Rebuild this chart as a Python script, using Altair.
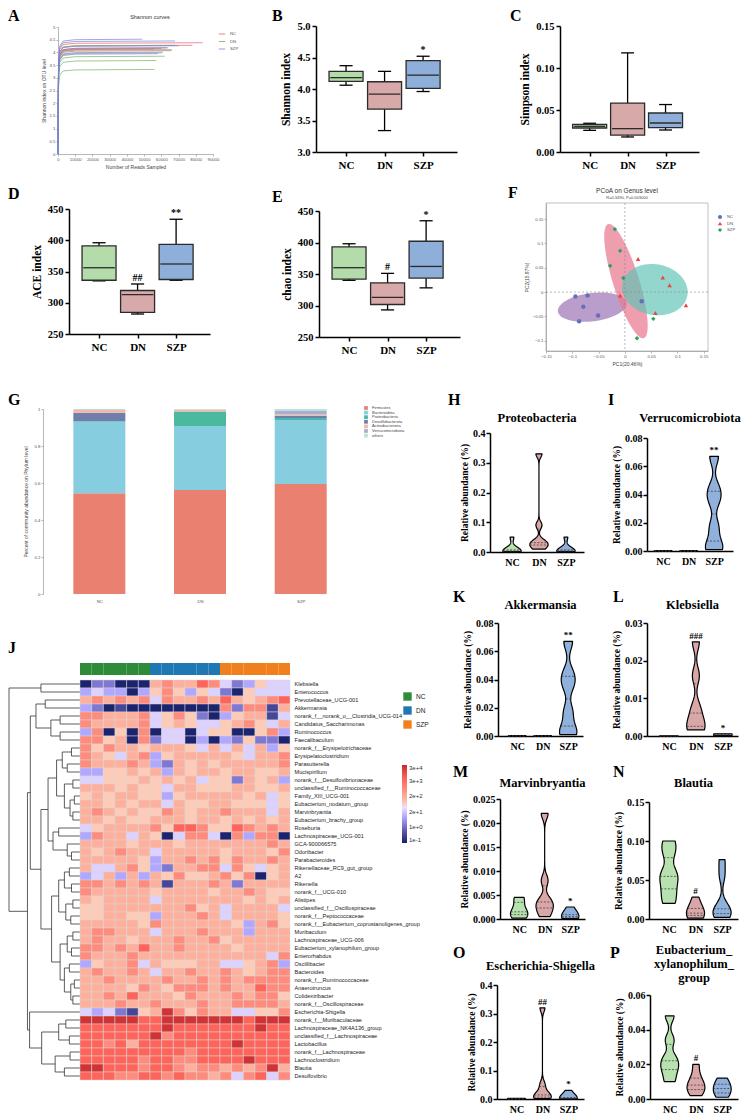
import altair as alt
import numpy as np
import pandas as pd

SERIF = "Liberation Serif"
SANS = "Liberation Sans"
GROUPS = ["NC", "DN", "SZP"]
LBL = "datum.value == 1 ? 'NC' : datum.value == 2 ? 'DN' : 'SZP'"
CW, CH = 739, 1109      # whole drawing area (page margin 8 px)
M0 = 8                  # page margin: reference pixel -> drawing pixel

# ---------------- Panel A: Shannon rarefaction curves ----------------
A_colors = ["#e3606c", "#74b067", "#7b84d4"]
A_curves = {
    "NC1": ("NC", [(0, 0.0), (300, 3.45), (1000, 4.12), (3000, 4.31), (10000, 4.36), (84000, 4.38)]),
    "NC2": ("NC", [(0, 0.0), (300, 3.40), (1000, 4.02), (3000, 4.21), (10000, 4.26), (78000, 4.28)]),
    "NC3": ("NC", [(0, 0.0), (300, 3.30), (1000, 3.93), (3000, 4.11), (10000, 4.16), (63000, 4.18)]),
    "NC4": ("NC", [(0, 0.0), (300, 3.28), (1000, 3.90), (3000, 4.08), (10000, 4.13), (60000, 4.15)]),
    "NC5": ("NC", [(0, 0.0), (300, 3.25), (1000, 3.88), (3000, 4.06), (10000, 4.11), (56000, 4.13)]),
    "NC6": ("NC", [(0, 0.0), (300, 3.20), (1000, 3.82), (3000, 4.00), (10000, 4.05), (66000, 4.07)]),
    "DN1": ("DN", [(0, 0.0), (300, 3.38), (1000, 4.02), (3000, 4.21), (10000, 4.26), (68000, 4.28)]),
    "DN2": ("DN", [(0, 0.0), (300, 3.25), (1000, 3.86), (3000, 4.04), (10000, 4.09), (66000, 4.11)]),
    "DN3": ("DN", [(0, 0.0), (300, 3.12), (1000, 3.73), (3000, 3.91), (10000, 3.96), (60000, 3.98)]),
    "DN4": ("DN", [(0, 0.0), (300, 3.02), (1000, 3.60), (3000, 3.78), (10000, 3.83), (62000, 3.85)]),
    "DN5": ("DN", [(0, 0.0), (300, 2.90), (1000, 3.44), (3000, 3.61), (10000, 3.66), (57000, 3.68)]),
    "DN6": ("DN", [(0, 0.0), (300, 2.60), (1000, 3.10), (3000, 3.27), (10000, 3.31), (56000, 3.33)]),
    "SZP1": ("SZP", [(0, 0.0), (300, 3.58), (1000, 4.25), (3000, 4.45), (10000, 4.50), (49000, 4.52)]),
    "SZP2": ("SZP", [(0, 0.0), (300, 3.52), (1000, 4.18), (3000, 4.38), (10000, 4.43), (68000, 4.45)]),
    "SZP3": ("SZP", [(0, 0.0), (300, 3.36), (1000, 4.00), (3000, 4.19), (10000, 4.24), (70000, 4.26)]),
    "SZP4": ("SZP", [(0, 0.0), (300, 3.30), (1000, 3.92), (3000, 4.11), (10000, 4.16), (64000, 4.18)]),
    "SZP5": ("SZP", [(0, 0.0), (300, 3.15), (1000, 3.76), (3000, 3.94), (10000, 3.99), (61000, 4.01)]),
    "SZP6": ("SZP", [(0, 0.0), (300, 3.10), (1000, 3.70), (3000, 3.88), (10000, 3.93), (58000, 3.95)]),
}

# ---------------- Panels B-E: box plots (min, q1, median, q3, max) ----------------
BOX_FILL = {"NC": "#b4dcaa", "DN": "#d8a9a9", "SZP": "#8eafd9"}
B_stats = {"NC": (4.06, 4.12, 4.18, 4.28, 4.37), "DN": (3.34, 3.68, 3.92, 4.115, 4.28), "SZP": (3.96, 4.01, 4.22, 4.45, 4.52)}
B_ann = {"SZP": "*"}
C_stats = {"NC": (0.0258, 0.0286, 0.0306, 0.033, 0.0342), "DN": (0.0179, 0.0202, 0.0278, 0.0583, 0.118), "SZP": (0.0262, 0.029, 0.0345, 0.0464, 0.0565)}
C_ann = {}
D_stats = {"NC": (335, 336, 356, 391, 396), "DN": (282, 284.5, 313, 319.6, 330), "SZP": (336, 337.2, 362, 393.5, 433.6)}
D_ann = {"DN": "##", "SZP": "**"}
E_stats = {"NC": (340, 342, 360, 393, 398), "DN": (293, 301.6, 313, 336, 351), "SZP": (328, 343.5, 362, 402, 434.5)}
E_ann = {"DN": "#", "SZP": "*"}

# ---------------- Panel F: PCoA ----------------
F_NC = [(-0.094, -0.009), (-0.071, -0.007), (-0.079, -0.030), (-0.051, -0.048), (-0.087, -0.060), (0.032, -0.019)]
F_DN = [(0.025, 0.068), (0.072, 0.030), (0.085, 0.014), (0.116, -0.027), (0.058, -0.043), (-0.009, -0.007)]
F_SZP = [(-0.019, 0.129), (-0.009, 0.085), (-0.028, 0.054), (-0.003, 0.029), (0.054, -0.055), (0.023, -0.095)]
# ellipses: centre x, centre y, semi-major, semi-minor, angle (deg), fill, opacity
F_ellipses = [
    (-0.062, -0.031, 0.066, 0.029, 8, "#a47cba", 0.75),
    (0.002, 0.0225, 0.122, 0.025, 106, "#e87890", 0.72),
    (0.057, 0.005, 0.063, 0.052, -15, "#5fc3b5", 0.68),
]
F_point_colors = ["#6670b8", "#e8473f", "#27a562"]

# ---------------- Panel G: phylum composition ----------------
G_phyla = ["Firmicutes", "Bacteroidota", "Proteobacteria", "Desulfobacterota",
           "Actinobacteriota", "Verrucomicrobiota", "others"]
G_colors = ["#ea8170", "#87cde0", "#4bb9a0", "#6f7fab", "#f6b6a6", "#a8aecf", "#b6e2da"]
G_NC = [0.544, 0.387, 0.003, 0.046, 0.015, 0.000, 0.005]
G_DN = [0.562, 0.346, 0.077, 0.002, 0.010, 0.000, 0.003]
G_SZP = [0.595, 0.345, 0.012, 0.012, 0.006, 0.022, 0.008]

# ---------------- Panel J: heatmap (colour level 0..9 per sample) ----------------
J_group_colors = ["#2e8b3a", "#1f78b4", "#f07f1e"]
J_rows = [
    ("Klebsiella", "022000676687423544"),
    ("Enterococcus", "343303575354205444"),
    ("Prevotellaceae_UCG-001", "676767476676865678"),
    ("Akkermansia", "320100000000727716"),
    ("norank_f__norank_o__Clostridia_UCG-014", "776667457520356614"),
    ("Candidatus_Saccharimonas", "766667456544567546"),
    ("Ruminococcus", "370507044045500573"),
    ("Faecalibaculum", "775607244030325220"),
    ("norank_f__Erysipelotrichaceae", "757665666546464635"),
    ("Erysipelatoclostridium", "765467356666654667"),
    ("Parasutterella", "766676326565666667"),
    ("Mucispirillum", "335565636566566556"),
    ("norank_f__Desulfovibrionaceae", "445556565645526563"),
    ("unclassified_f__Ruminococcaceae", "666565546655566556"),
    ("Family_XIII_UCG-001", "565665535666665645"),
    ("Eubacterium_nodatum_group", "665656646556655545"),
    ("Marvinbryantia", "676565576566766646"),
    ("Eubacterium_brachy_group", "665655666566565656"),
    ("Roseburia", "456666758875587676"),
    ("Lachnospiraceae_UCG-001", "376646504774073770"),
    ("GCA-900066575", "666656665666666676"),
    ("Odoribacter", "656766466666566657"),
    ("Parabacteroides", "666665366767576676"),
    ("Rikenellaceae_RC9_gut_group", "644675326677475456"),
    ("A2", "346363657556757056"),
    ("Rikenella", "776767616667626666"),
    ("norank_f__UCG-010", "766666566665667655"),
    ("Alistipes", "656666466666665656"),
    ("unclassified_f__Oscillospiraceae", "556666666756466664"),
    ("norank_f__Peptococcaceae", "556655366676466665"),
    ("norank_f__Eubacterium_coprostanoligenes_group", "666665766666653675"),
    ("Muribaculum", "677666466676663666"),
    ("Lachnospiraceae_UCG-006", "676656667667566666"),
    ("Eubacterium_xylanophilum_group", "776768667666656666"),
    ("Enterorhabdus", "766676666666666647"),
    ("Oscillibacter", "356674655566445673"),
    ("Bacteroides", "676676466766765677"),
    ("norank_f__Ruminococcaceae", "667666676676767777"),
    ("Anaerotruncus", "666657657776766877"),
    ("Colidextribacter", "667686665766676775"),
    ("norank_f__Oscillospiraceae", "666766766676677776"),
    ("Escherichia-Shigella", "434215697576644557"),
    ("norank_f__Muribaculaceae", "999998899999998999"),
    ("Lachnospiraceae_NK4A136_group", "888888898888888988"),
    ("unclassified_f__Lachnospiraceae", "888888978888888888"),
    ("Lactobacillus", "887868888888898888"),
    ("norank_f__Lachnospiraceae", "888888888788888888"),
    ("Lachnoclostridium", "888887887788889888"),
    ("Blautia", "998887887677676796"),
    ("Desulfovibrio", "888778878776747847"),
]
HEAT_LEVELS = [-0.95, -0.45, 0.24, 0.84, 1.34, 1.75, 2.2, 2.84, 3.53, 4.35]
HEAT_LEGEND_VALUES = [4.5, 3.4, 2.3, 1.2, 0.1, -1.0]
HEAT_LEGEND_LABELS = ["3e+4", "3e+3", "2e+2", "2e+1", "1e+0", "1e-1"]
# dendrogram: (left, right, merge height); leaves are row indices
J_tree = (
    (0, 1, 0.55),
    (
        (
            ((2, 3, 0.49), (((4, 5, 0.28), (6, 7, 0.28), 0.41)), 0.62),
            (
                (
                    (((8, 9, 0.12), (10, 11, 0.18), 0.25),
                     ((12, 13, 0.10), ((14, 15, 0.08), (16, 17, 0.10), 0.14), 0.22), 0.33),
                    ((18, 19, 0.30), (20, (21, 22, 0.12), 0.18), 0.38),
                    0.45,
                ),
                (
                    (((23, 24, 0.15), (25, 26, 0.12), 0.22), ((27, 28, 0.10), (29, 30, 0.13), 0.20), 0.30),
                    (((31, 32, 0.10), (33, 34, 0.12), 0.18),
                     ((35, 36, 0.15), ((37, 38, 0.08), (39, 40, 0.10), 0.13), 0.22), 0.28),
                    0.40,
                ),
                0.55,
            ),
            0.70,
        ),
        (41, (((42, 43, 0.20), (44, 45, 0.15), 0.30), ((46, 47, 0.14), (48, 49, 0.22), 0.35), 0.54), 0.71),
        0.74,
    ),
    1.0,
)

# ---------------- Violin panels H-P (six samples per group) ----------------
VIO_FILL = {"NC": "#b7e1ae", "DN": "#d9a7a7", "SZP": "#8fb1dc"}
H_vals = {"NC": [0.001, 0.002, 0.003, 0.004, 0.008, 0.05], "DN": [0.01, 0.02, 0.03, 0.035, 0.09, 0.33],
          "SZP": [0.001, 0.002, 0.003, 0.004, 0.008, 0.05]}
I_vals = {"NC": [0.0, 0.0, 0.0001, 0.0001, 0.0002, 0.0003], "DN": [0.0, 0.0, 0.0001, 0.0001, 0.0002, 0.0003],
          "SZP": [0.001, 0.004, 0.017, 0.036, 0.044, 0.067]}
K_vals = {"NC": [0.0, 0.0, 0.0001, 0.0001, 0.0002, 0.0003], "DN": [0.0, 0.0, 0.0001, 0.0001, 0.0002, 0.0003],
          "SZP": [0.001, 0.004, 0.017, 0.036, 0.044, 0.067]}
L_vals = {"NC": [0.0, 0.0, 0.00001, 0.00002, 0.00004, 0.00005], "DN": [0.0016, 0.002, 0.0045, 0.0075, 0.016, 0.025],
          "SZP": [0.0001, 0.0002, 0.0003, 0.0004, 0.0005, 0.0006]}
M_vals = {"NC": [0.0002, 0.0008, 0.0012, 0.0018, 0.004, 0.0045], "DN": [0.0005, 0.002, 0.003, 0.004, 0.008, 0.022],
          "SZP": [0.0001, 0.0002, 0.0004, 0.0006, 0.001, 0.0025]}
N_vals = {"NC": [0.02, 0.035, 0.05, 0.06, 0.085, 0.1], "DN": [0.001, 0.004, 0.006, 0.009, 0.015, 0.028],
          "SZP": [0.002, 0.006, 0.01, 0.016, 0.056, 0.076]}
O_vals = {"NC": [0.0, 0.0, 0.0005, 0.001, 0.0015, 0.002], "DN": [0.001, 0.004, 0.01, 0.02, 0.05, 0.32],
          "SZP": [0.0005, 0.001, 0.002, 0.003, 0.006, 0.03]}
P_vals = {"NC": [0.01, 0.016, 0.02, 0.024, 0.034, 0.048], "DN": [0.002, 0.005, 0.007, 0.009, 0.013, 0.02],
          "SZP": [0.001, 0.003, 0.005, 0.007, 0.009, 0.012]}

ONE = pd.DataFrame({"k": [0]})


# ---------------- helpers (positions given in reference pixels) ----------------
def P(v):
    return v - M0


def xrange_(plot):
    return [P(plot[0]), P(plot[0] + plot[2])]


def yrange_(plot):
    return [P(plot[1] + plot[3]), P(plot[1])]


def txt(text, x, y, size, font=SERIF, weight="bold", align="left", baseline="top",
        color="black", angle=0, lh=None):
    kw = dict(text=text, fontSize=size, font=font, fontWeight=weight, align=align,
              baseline=baseline, color=color)
    if angle:
        kw["angle"] = angle
    if lh:
        kw["lineHeight"] = lh
    return alt.Chart(ONE).mark_text(**kw).encode(x=alt.value(P(x)), y=alt.value(P(y)))


def letter(ch, pos):
    return txt(ch, max(pos[0], M0), max(pos[1], M0), 16)


def serif_axis(**kw):
    base = dict(grid=False, labelFont=SERIF, labelFontWeight="bold", labelColor="black",
                titleFont=SERIF, titleFontWeight="bold", titleColor="black",
                domainColor="black", tickColor="black", domainWidth=1.5, tickWidth=1.5,
                labelFlush=False, labelOverlap=False)
    base.update(kw)
    return alt.Axis(**base)


def small_axis(**kw):
    base = dict(grid=False, labelFont=SANS, labelFontSize=4.3, labelColor="#555",
                titleFont=SANS, titleFontSize=5, titleFontWeight="normal", titleColor="#444",
                domainColor="#888", tickColor="#888", domainWidth=0.6, tickWidth=0.6, tickSize=2,
                labelPadding=1, titlePadding=3, labelFlush=False, labelOverlap=False)
    base.update(kw)
    return alt.Axis(**base)


def bottom_off(plot):
    return P(plot[1] + plot[3]) - CH


def left_off(plot):
    return -P(plot[0])


# ---------------- box panels ----------------
def box_panel(ch, stats, ann, ytitle, ydom, yticks, yfmt, plot, lpos):
    df = pd.DataFrame({
        "grp": GROUPS, "idx": [1, 2, 3],
        "lo": [stats[g][0] for g in GROUPS], "q1": [stats[g][1] for g in GROUPS],
        "med": [stats[g][2] for g in GROUPS], "q3": [stats[g][3] for g in GROUPS],
        "hi": [stats[g][4] for g in GROUPS],
        "fill": [BOX_FILL[g] for g in GROUPS], "ann": [ann.get(g, "") for g in GROUPS]})
    xs = alt.Scale(domain=[0.35, 3.75], range=xrange_(plot), nice=False, zero=False)
    ys = alt.Scale(domain=ydom, range=yrange_(plot), nice=False, zero=False)
    xa = serif_axis(orient="bottom", offset=bottom_off(plot), values=[1, 2, 3], labelExpr=LBL, title=None,
                    labelFontSize=11, tickSize=4, labelPadding=3)
    ya = serif_axis(orient="left", offset=left_off(plot), values=yticks, format=yfmt, title=ytitle,
                    labelFontSize=10.5, titleFontSize=11.5, tickSize=4, labelPadding=2, titlePadding=5)
    base = alt.Chart(df).transform_calculate(
        cl="datum.idx - 0.17", cr="datum.idx + 0.17", ml="datum.idx - 0.41", mr="datum.idx + 0.41")
    X = lambda f: alt.X(f, scale=xs, axis=xa)
    Y = lambda f: alt.Y(f, scale=ys, axis=ya)
    whisk = base.mark_rule(color="black", strokeWidth=1.3).encode(x=X("idx:Q"), y=Y("lo:Q"), y2="hi:Q")
    cap_lo = base.mark_rule(color="black", strokeWidth=1.3).encode(x=X("cl:Q"), x2="cr:Q", y=Y("lo:Q"))
    cap_hi = base.mark_rule(color="black", strokeWidth=1.3).encode(x=X("cl:Q"), x2="cr:Q", y=Y("hi:Q"))
    box = base.mark_bar(size=34, stroke="#2b2b2b", strokeWidth=1.3).encode(
        x=X("idx:Q"), y=Y("q1:Q"), y2="q3:Q", color=alt.Color("fill:N", scale=None))
    med = base.mark_rule(color="#2b2b2b", strokeWidth=1.3).encode(x=X("ml:Q"), x2="mr:Q", y=Y("med:Q"))
    annt = base.mark_text(font=SERIF, fontWeight="bold", fontSize=10, baseline="bottom", dy=-1).encode(
        x=X("idx:Q"), y=Y("hi:Q"), text="ann:N")
    return alt.layer(whisk, cap_lo, cap_hi, box, med, annt, letter(ch, lpos))


# ---------------- violin panels ----------------
def violin_panel(ch, title, vals, ann, bw, ydom, yticks, yfmt, plot, lpos, title_y,
                 xdom=(0.25, 3.6), title_baseline="middle"):
    rows = []
    for i, g in enumerate(GROUPS):
        for v in vals[g]:
            rows.append({"grp": g, "idx": i + 1, "val": v, "fill": VIO_FILL[g], "ann": ann.get(g, "")})
    df = pd.DataFrame(rows)
    xs = alt.Scale(domain=list(xdom), range=xrange_(plot), nice=False, zero=False)
    ys = alt.Scale(domain=ydom, range=yrange_(plot), nice=False, zero=False)
    xa = serif_axis(orient="bottom", offset=bottom_off(plot), values=[1, 2, 3], labelExpr=LBL, title=None,
                    labelFontSize=10, ticks=False, labelPadding=5)
    ya = serif_axis(orient="left", offset=left_off(plot), values=yticks, format=yfmt,
                    title="Relative abundance (%)", labelFontSize=10, titleFontSize=9.5, tickSize=4,
                    labelPadding=1, titlePadding=3)
    layers = []
    for g in GROUPS:
        dens = (alt.Chart(df)
                .transform_filter(alt.datum.grp == g)
                .transform_joinaggregate(q1="q1(val)", md="median(val)", q3="q3(val)")
                .transform_density("val", as_=["yv", "dens"], bandwidth=bw,
                                   groupby=["idx", "fill", "q1", "md", "q3"], steps=120)
                .transform_joinaggregate(dmax="max(dens)")
                .transform_calculate(lft="datum.idx - 0.34 * datum.dens / datum.dmax",
                                     rgt="datum.idx + 0.34 * datum.dens / datum.dmax"))
        area = dens.mark_area(orient="horizontal", stroke="black", strokeWidth=1.2, strokeJoin="round").encode(
            y=alt.Y("yv:Q", scale=ys, axis=ya), x=alt.X("lft:Q", scale=xs, axis=xa), x2="rgt:Q",
            color=alt.Color("fill:N", scale=None))
        qlines = (dens.transform_fold(["q1", "md", "q3"], as_=["qk", "qv"])
                  .transform_calculate(dd="abs(datum.yv - datum.qv)")
                  .transform_window(rn="row_number()", sort=[alt.SortField("dd", order="ascending")],
                                    groupby=["qk"])
                  .transform_filter("datum.rn == 1")
                  .mark_rule(strokeDash=[2, 1.5], strokeWidth=0.7, color="#333")
                  .encode(x=alt.X("lft:Q", scale=xs, axis=xa), x2="rgt:Q", y=alt.Y("yv:Q", scale=ys, axis=ya)))
        layers += [area, qlines]
    annt = (alt.Chart(df).transform_aggregate(top="max(val)", groupby=["grp", "idx", "ann"])
            .mark_text(font=SERIF, fontWeight="bold", fontSize=9, baseline="bottom", dy=-1)
            .encode(x=alt.X("idx:Q", scale=xs, axis=xa), y=alt.Y("top:Q", scale=ys, axis=ya), text="ann:N"))
    ttl = txt(title, plot[0] + plot[2] / 2, title_y, 12.5, align="center", baseline=title_baseline, lh=14)
    layers += [annt, ttl, letter(ch, lpos)]
    return alt.layer(*layers)


# ---------------- Panel A ----------------
rowsA = []
for name, (grp, pts) in A_curves.items():
    for r, s in pts:
        rowsA.append({"sample": name, "grp": grp, "reads": r, "shannon": s})
dfA = pd.DataFrame(rowsA)
pA = (58, 27, 155, 127)
linesA = alt.Chart(dfA).mark_line(strokeWidth=0.7).encode(
    x=alt.X("reads:Q", scale=alt.Scale(domain=[0, 90000], range=xrange_(pA), nice=False),
            axis=small_axis(orient="bottom", offset=bottom_off(pA), values=list(range(0, 90001, 10000)),
                            format="d", title="Number of Reads Sampled")),
    y=alt.Y("shannon:Q", scale=alt.Scale(domain=[0, 5], range=yrange_(pA), nice=False),
            axis=small_axis(orient="left", offset=left_off(pA), values=[i * 0.5 for i in range(11)],
                            format="~g", title="Shannon index on OTU level")),
    color=alt.Color("grp:N", scale=alt.Scale(domain=GROUPS, range=A_colors),
                    legend=alt.Legend(orient="none", legendX=P(218), legendY=P(30), title=None, symbolType="stroke",
                                      symbolSize=40, symbolStrokeWidth=0.8, labelFont=SANS, labelFontSize=4.3,
                                      labelColor="#555", rowPadding=0.5)),
    detail="sample:N")
panelA = alt.layer(linesA,
                   txt("Shannon curves", 150, 17, 5.5, font=SANS, weight="normal", align="center",
                       baseline="middle", color="#333"),
                   letter("A", (8, 8)))

# ---------------- Panels B-E ----------------
panelB = box_panel("B", B_stats, B_ann, "Shannon index", [3.0, 5.0], [3.0, 3.5, 4.0, 4.5, 5.0], ".1f",
                   (316, 26, 141, 126), (272, 8))
panelC = box_panel("C", C_stats, C_ann, "Simpson index", [0.0, 0.15], [0.0, 0.05, 0.10, 0.15], ".2f",
                   (560, 26, 139, 126), (510, 8))
panelD = box_panel("D", D_stats, D_ann, "ACE index", [250, 450], [250, 300, 350, 400, 450], "d",
                   (69, 209, 141, 125), (8, 186))
panelE = box_panel("E", E_stats, E_ann, "chao index", [250, 450], [250, 300, 350, 400, 450], "d",
                   (319, 211, 141, 126), (272, 189))

# ---------------- Panel F ----------------
pF = (546, 203, 162, 148)
xsF = alt.Scale(domain=[-0.15, 0.158], range=xrange_(pF), nice=False, zero=False)
ysF = alt.Scale(domain=[-0.121, 0.183], range=yrange_(pF), nice=False, zero=False)
axFx = small_axis(orient="bottom", offset=bottom_off(pF), values=[-0.15, -0.1, -0.05, 0, 0.05, 0.1, 0.15],
                  format="~g", title="PC1(20.46%)")
axFy = small_axis(orient="left", offset=left_off(pF), values=[-0.1, -0.05, 0, 0.05, 0.1, 0.15],
                  format="~g", title="PC2(15.97%)")
layersF = []
for (cx, cy, a, b, ang, col, op) in F_ellipses:
    t = np.linspace(0, 2 * np.pi, 73)
    th = np.radians(ang)
    ex = cx + a * np.cos(t) * np.cos(th) - b * np.sin(t) * np.sin(th)
    ey = cy + a * np.cos(t) * np.sin(th) + b * np.sin(t) * np.cos(th)
    dfe = pd.DataFrame({"x": ex, "y": ey, "i": np.arange(len(t))})
    layersF.append(alt.Chart(dfe).mark_line(fill=col, fillOpacity=op, strokeOpacity=0).encode(
        x=alt.X("x:Q", scale=xsF, axis=axFx), y=alt.Y("y:Q", scale=ysF, axis=axFy), order="i:Q"))
zeroF = [
    alt.Chart(ONE).mark_rule(strokeDash=[2, 2], color="#888", strokeWidth=0.6).encode(
        x=alt.X(datum=0, scale=xsF, axis=axFx), y=alt.value(P(pF[1])), y2=alt.value(P(pF[1] + pF[3]))),
    alt.Chart(ONE).mark_rule(strokeDash=[2, 2], color="#888", strokeWidth=0.6).encode(
        y=alt.Y(datum=0, scale=ysF, axis=axFy), x=alt.value(P(pF[0])), x2=alt.value(P(pF[0] + pF[2]))),
]
rowsF = []
for g, pts in zip(GROUPS, [F_NC, F_DN, F_SZP]):
    for (x, y) in pts:
        rowsF.append({"grp": g, "x": x, "y": y})
dfF = pd.DataFrame(rowsF)
legF = alt.Legend(orient="none", legendX=P(717), legendY=P(214), title=None, labelFont=SANS, labelFontSize=4.3,
                  labelColor="#555", symbolSize=18, rowPadding=0.5)
ptsF = alt.Chart(dfF).mark_point(filled=True, size=20, opacity=1).encode(
    x=alt.X("x:Q", scale=xsF, axis=axFx), y=alt.Y("y:Q", scale=ysF, axis=axFy),
    color=alt.Color("grp:N", scale=alt.Scale(domain=GROUPS, range=F_point_colors), legend=legF),
    shape=alt.Shape("grp:N", scale=alt.Scale(domain=GROUPS, range=["circle", "triangle-up", "diamond"]),
                    legend=legF))
boxF = alt.Chart(ONE).mark_rect(filled=False, stroke="#999", strokeWidth=0.6).encode(
    x=alt.value(P(pF[0])), x2=alt.value(P(pF[0] + pF[2])), y=alt.value(P(pF[1])), y2=alt.value(P(pF[1] + pF[3])))
panelF = alt.layer(*layersF, *zeroF, ptsF, boxF,
                   txt("PCoA on Genus level", 627, 191, 6.5, font=SANS, weight="normal", align="center",
                       baseline="middle", color="#333"),
                   txt("R=0.3490, P=0.003000", 627, 198, 4, font=SANS, weight="normal", align="center",
                       baseline="middle", color="#444"),
                   letter("F", (508, 185)))

# ---------------- Panel G ----------------
pG = (43, 409, 307, 185)
rowsG = []
for i, vals in enumerate([G_NC, G_DN, G_SZP]):
    for j, (ph, v) in enumerate(zip(G_phyla, vals)):
        rowsG.append({"idx": i + 1, "phylum": ph, "val": v, "ord": j})
dfG = pd.DataFrame(rowsG)
barsG = alt.Chart(dfG).transform_stack(
    stack="val", groupby=["idx"], as_=["y0", "y1"], sort=[alt.SortField("ord", order="ascending")]
).mark_bar(size=52).encode(
    x=alt.X("idx:Q", scale=alt.Scale(domain=[0.49, 3.44], range=xrange_(pG), nice=False, zero=False),
            axis=small_axis(orient="bottom", offset=bottom_off(pG), values=[1, 2, 3], labelExpr=LBL, title=None,
                            domain=False, ticks=False, labelPadding=5)),
    y=alt.Y("y0:Q", scale=alt.Scale(domain=[0, 1], range=yrange_(pG), nice=False),
            axis=small_axis(orient="left", offset=left_off(pG), values=[0, 0.2, 0.4, 0.6, 0.8, 1.0], format="~g",
                            title="Percent of community abundance on Phylum level", titlePadding=6)),
    y2="y1:Q",
    color=alt.Color("phylum:N", scale=alt.Scale(domain=G_phyla, range=G_colors),
                    legend=alt.Legend(orient="none", legendX=P(364), legendY=P(406), title=None, symbolType="square",
                                      symbolSize=14, labelFont=SANS, labelFontSize=4, labelColor="#444",
                                      rowPadding=0.6, symbolStrokeWidth=0)))
panelG = alt.layer(barsG, letter("G", (8, 392)))

# ---------------- Panel J ----------------
segs = []


def walk(node):
    if isinstance(node, int):
        return 0.0, node + 0.5
    l, r, hh = node
    hl, yl = walk(l)
    hr, yr = walk(r)
    segs.append((hl, yl, hh, yl))
    segs.append((hr, yr, hh, yr))
    segs.append((hh, yl, hh, yr))
    return hh, (yl + yr) / 2


walk(J_tree)
dfD = pd.DataFrame(segs, columns=["h1", "p1", "h2", "p2"])
pJd = (8, 680, 72, 400)
dend = alt.Chart(dfD).mark_rule(color="#333", strokeWidth=0.8).encode(
    x=alt.X("h1:Q", scale=alt.Scale(domain=[0, 1.0], range=[P(80), P(9)], nice=False, zero=False), axis=None),
    x2="h2:Q",
    y=alt.Y("p1:Q", scale=alt.Scale(domain=[0, 50], range=[P(680), P(1080)], nice=False, zero=False), axis=None),
    y2="p2:Q")
panelJd = alt.layer(dend, letter("J", (8, 640)))

taxa = [t for t, _ in J_rows]
rowsH = []
for t, digits in J_rows:
    for c, d in enumerate(digits):
        rowsH.append({"taxon": t, "col": c + 1, "lvl": HEAT_LEVELS[int(d)]})
dfH = pd.DataFrame(rowsH)
dfBar = pd.DataFrame({"col": list(range(1, 19)), "grp": [g for g in GROUPS for _ in range(6)]})
Xh = alt.X("col:O", axis=None, scale=alt.Scale(range=[P(80), P(290)], paddingInner=0, paddingOuter=0))
lab_expr = " : ".join(
    [f"datum.value > {v - 0.3} ? '{s}'" for v, s in zip(HEAT_LEGEND_VALUES[:-1], HEAT_LEGEND_LABELS[:-1])]
) + f" : '{HEAT_LEGEND_LABELS[-1]}'"
heat = alt.Chart(dfH).mark_rect(stroke="#d6d6d6", strokeWidth=0.5).encode(
    x=Xh,
    y=alt.Y("taxon:N", sort=taxa, scale=alt.Scale(range=[P(680), P(1080)], paddingInner=0, paddingOuter=0),
            axis=alt.Axis(orient="right", offset=P(290) - CW, title=None, ticks=False, domain=False,
                          labelFont=SANS, labelFontSize=5.6, labelColor="#222", labelPadding=4,
                          labelOverlap=False, labelLimit=200)),
    fill=alt.Fill("lvl:Q", scale=alt.Scale(domain=[-1.0, 1.75, 4.5], range=["#17206b", "#ffffff", "#c8282d"]),
                  legend=alt.Legend(orient="none", legendX=P(402), legendY=P(765), direction="vertical", title=None,
                                    gradientLength=78, gradientThickness=5, values=HEAT_LEGEND_VALUES,
                                    labelExpr=lab_expr, labelFont=SANS, labelFontSize=6, labelColor="#333",
                                    gradientStrokeWidth=0)))
gbar = alt.Chart(dfBar).mark_rect().encode(
    x=Xh, y=alt.value(P(663)), y2=alt.value(P(675)),
    color=alt.Color("grp:N", scale=alt.Scale(domain=GROUPS, range=J_group_colors),
                    legend=alt.Legend(orient="none", legendX=P(403), legendY=P(692), title=None, symbolType="square",
                                      symbolSize=70, labelFont=SANS, labelFontSize=6.5, labelColor="#222",
                                      rowPadding=5, symbolStrokeWidth=0)))
panelJh = alt.layer(heat, gbar)

# ---------------- Violins ----------------
panelH = violin_panel("H", "Proteobacteria", H_vals, {}, 0.012, [0, 0.4], [0, 0.1, 0.2, 0.3, 0.4], ".1f",
                      (490, 433, 94, 119), (448, 392), 418, xdom=(0.185, 3.67))
panelI = violin_panel("I", "Verrucomicrobiota", I_vals, {"SZP": "**"}, 0.006, [0, 0.08],
                      [0, 0.02, 0.04, 0.06, 0.08], ".2f",
                      (647, 438, 86, 113), (608, 392), 418, xdom=(0.37, 3.74))
panelK = violin_panel("K", "Akkermansia", K_vals, {"SZP": "**"}, 0.006, [0, 0.08],
                      [0, 0.02, 0.04, 0.06, 0.08], ".2f",
                      (498, 623, 85, 113), (453, 589), 605, xdom=(0.25, 3.58))
panelL = violin_panel("L", "Klebsiella", L_vals, {"DN": "###", "SZP": "*"}, 0.0022, [0, 0.03],
                      [0, 0.01, 0.02, 0.03], ".2f",
                      (647, 623, 91, 113), (613, 589), 605, xdom=(0.19, 3.56))
panelM = violin_panel("M", "Marvinbryantia", M_vals, {"SZP": "*"}, 0.0012, [0, 0.025],
                      [0, 0.005, 0.01, 0.015, 0.02, 0.025], ".3f",
                      (500, 799, 85, 120), (453, 764), 783, xdom=(0.25, 3.58))
panelN = violin_panel("N", "Blautia", N_vals, {"DN": "#"}, 0.01, [0, 0.15], [0, 0.05, 0.10, 0.15], ".2f",
                      (649, 802, 89, 117), (613, 764), 783, xdom=(0.25, 3.6))
panelO = violin_panel("O", "Escherichia-Shigella", O_vals, {"DN": "##", "SZP": "*"}, 0.015, [0, 0.4],
                      [0, 0.1, 0.2, 0.3, 0.4], ".1f",
                      (497, 985, 87, 114), (453, 945), 966, xdom=(0.25, 3.6))
panelP = violin_panel("P", ["Eubacterium_", "xylanophilum_", "group"], P_vals, {"DN": "#"}, 0.0035, [0, 0.06],
                      [0, 0.02, 0.04, 0.06], ".2f",
                      (650, 995, 88, 104), (610, 945), 944, xdom=(0.25, 3.6), title_baseline="top")

# ---------------- one drawing, every panel with its own scales placed in pixels ----------------
chart = alt.layer(
    panelA, panelB, panelC, panelD, panelE, panelF, panelG, panelJd, panelJh,
    panelH, panelI, panelK, panelL, panelM, panelN, panelO, panelP,
).resolve_scale(
    x="independent", y="independent", color="independent", fill="independent", shape="independent"
).resolve_axis(x="independent", y="independent").properties(
    width=CW, height=CH, padding=0, autosize=alt.AutoSizeParams(type="none")
).configure_view(strokeWidth=0)

chart.save("out.html", embed_options={"renderer": "svg", "actions": False})
